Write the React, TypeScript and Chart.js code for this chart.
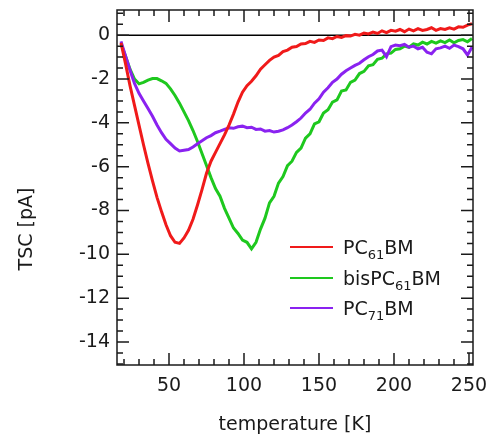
import React, { useEffect, useRef } from "react";
import { Chart, registerables } from "chart.js";

Chart.register(...registerables);

// Temperature sweep (K)
const temperatureK = [
  18, 21, 24, 27, 30, 33, 36, 39, 42, 45,
  48, 51, 54, 57, 60, 63, 66, 69, 72, 75,
  78, 81, 84, 87, 90, 93, 96, 99, 102, 105,
  108, 111, 114, 117, 120, 123, 126, 129, 132, 135,
  138, 141, 144, 147, 150, 153, 156, 159, 162, 165,
  168, 171, 174, 177, 180, 183, 186, 189, 192, 195,
  198, 201, 204, 207, 210, 213, 216, 219, 222, 225,
  228, 231, 234, 237, 240, 243, 246, 249, 252,
];

// Thermally stimulated current (pA)
const pc61bm = [
  -0.35, -1.3, -2.3, -3.2, -4.1, -5.0, -5.85, -6.65, -7.4, -8.05,
  -8.65, -9.15, -9.45, -9.5, -9.25, -8.9, -8.4, -7.75, -7.05, -6.3,
  -5.75, -5.35, -4.95, -4.55, -4.1, -3.6, -3.05, -2.6, -2.3, -2.1,
  -1.85, -1.55, -1.35, -1.15, -1.0, -0.92, -0.75, -0.68, -0.55, -0.52,
  -0.4, -0.38, -0.28, -0.33, -0.22, -0.24, -0.12, -0.16, -0.06, -0.1,
  -0.02, -0.04, 0.04, 0.0, 0.1, 0.06, 0.14, 0.08, 0.2, 0.12,
  0.22, 0.18, 0.26, 0.16, 0.28, 0.2, 0.3, 0.22, 0.26, 0.34,
  0.22, 0.3, 0.26, 0.34, 0.28, 0.38, 0.36, 0.46, 0.52,
];

const bisPc61bm = [
  -0.4, -0.95, -1.55, -2.0, -2.22, -2.15, -2.05, -1.98, -1.98, -2.08,
  -2.2, -2.45, -2.75, -3.1, -3.5, -3.9, -4.35, -4.85, -5.4, -5.95,
  -6.5, -7.0, -7.35, -7.9, -8.35, -8.8, -9.05, -9.35, -9.45, -9.75,
  -9.45, -8.85, -8.35, -7.65, -7.35, -6.75, -6.45, -5.95, -5.75, -5.35,
  -5.15, -4.7, -4.5, -4.05, -3.95, -3.55, -3.4, -3.05, -2.95, -2.55,
  -2.5, -2.15, -2.05, -1.75, -1.65, -1.4, -1.35, -1.1, -1.05, -0.85,
  -0.82, -0.65, -0.62, -0.5, -0.55, -0.4, -0.45, -0.32, -0.4, -0.28,
  -0.36, -0.26, -0.34, -0.22, -0.35, -0.24, -0.2, -0.3, -0.15,
];

const pc71bm = [
  -0.28, -0.95, -1.6, -2.2, -2.65, -3.0, -3.35, -3.7, -4.1, -4.45,
  -4.75, -4.95, -5.15, -5.28, -5.25, -5.22, -5.1, -4.95, -4.82, -4.68,
  -4.58, -4.45, -4.38, -4.3, -4.22, -4.25, -4.18, -4.15, -4.22, -4.2,
  -4.3, -4.28, -4.38, -4.35, -4.42, -4.38, -4.32, -4.22, -4.1, -3.95,
  -3.78, -3.55, -3.38, -3.1, -2.9, -2.6, -2.4, -2.15, -2.0, -1.78,
  -1.62, -1.5, -1.38, -1.28, -1.12, -0.98, -0.88, -0.72, -0.68, -0.98,
  -0.52, -0.45, -0.48, -0.42, -0.55, -0.5, -0.62, -0.55, -0.78, -0.85,
  -0.62, -0.58, -0.5, -0.6, -0.45, -0.52, -0.62, -0.9, -0.55,
];

const xTickValues = [50, 100, 150, 200, 250];
const yTickValues = [0, -2, -4, -6, -8, -10, -12, -14];

// Legend labels split into base / subscript / tail
const legendBase = ["PC", "bisPC", "PC"];
const legendSub = ["61", "61", "71"];
const legendTail = ["BM", "BM", "BM"];
const seriesColors = ["#f01a1a", "#1ec81e", "#8a22f0"];

const yTitle = "TSC [pA]";

const FONT = "'DejaVu Sans', sans-serif";
const INK = "#1a1a1a";

const clearScalePadding = (scale: any) => {
  scale.paddingTop = 0;
  scale.paddingBottom = 0;
  scale.paddingLeft = 0;
  scale.paddingRight = 0;
};

const axisFramePlugin = {
  id: "axisFrame",
  beforeDatasetsDraw(chart: any) {
    const { ctx, chartArea, scales } = chart;
    const y0 = scales.y.getPixelForValue(0);
    ctx.save();
    ctx.strokeStyle = "#000";
    ctx.lineWidth = 1.5;
    ctx.beginPath();
    ctx.moveTo(chartArea.left, y0);
    ctx.lineTo(chartArea.right, y0);
    ctx.stroke();
    ctx.restore();
  },
  afterDatasetsDraw(chart: any) {
    const { ctx, chartArea, scales } = chart;
    const { left, right, top, bottom } = chartArea;
    ctx.save();
    ctx.strokeStyle = INK;
    ctx.lineWidth = 1.5;
    ctx.strokeRect(left, top, right - left, bottom - top);
    ctx.beginPath();
    // temperature ticks, every 10 K with longer marks every 50 K
    for (let t = 20; t <= 250; t += 10) {
      const x = scales.x.getPixelForValue(t);
      const len = t % 50 === 0 ? 12 : 6;
      ctx.moveTo(x, bottom);
      ctx.lineTo(x, bottom - len);
      ctx.moveTo(x, top);
      ctx.lineTo(x, top + len);
    }
    // current ticks, every 0.5 pA with longer marks every 2 pA
    for (let k = -30; k <= 2; k++) {
      const v = k / 2;
      const y = scales.y.getPixelForValue(v);
      if (y < top - 0.5 || y > bottom + 0.5) continue;
      const len = k % 4 === 0 ? 12 : 6;
      ctx.moveTo(left, y);
      ctx.lineTo(left + len, y);
      ctx.moveTo(right, y);
      ctx.lineTo(right - len, y);
    }
    ctx.stroke();
    ctx.restore();
  },
  afterDraw(chart: any) {
    const { ctx } = chart;
    ctx.save();
    // vertical axis title
    ctx.save();
    ctx.translate(27, 229);
    ctx.rotate(-Math.PI / 2);
    ctx.fillStyle = INK;
    ctx.font = `19px ${FONT}`;
    ctx.textAlign = "center";
    ctx.textBaseline = "middle";
    ctx.fillText(yTitle, 0, 0);
    ctx.restore();

    const lineX0 = 290;
    const lineX1 = 333;
    const textX = 343;
    const rowY = [247, 278, 308];
    for (let i = 0; i < legendBase.length; i++) {
      const y = rowY[i];
      ctx.strokeStyle = seriesColors[i];
      ctx.lineWidth = 2;
      ctx.beginPath();
      ctx.moveTo(lineX0, y);
      ctx.lineTo(lineX1, y);
      ctx.stroke();
      ctx.fillStyle = INK;
      ctx.textBaseline = "alphabetic";
      ctx.textAlign = "left";
      let x = textX;
      ctx.font = `19px ${FONT}`;
      ctx.fillText(legendBase[i], x, y + 7);
      x += ctx.measureText(legendBase[i]).width;
      ctx.font = `13px ${FONT}`;
      ctx.fillText(legendSub[i], x, y + 12);
      x += ctx.measureText(legendSub[i]).width;
      ctx.font = `19px ${FONT}`;
      ctx.fillText(legendTail[i], x, y + 7);
    }
    ctx.restore();
  },
};

export default function App() {
  const canvasRef = useRef<HTMLCanvasElement | null>(null);

  useEffect(() => {
    const canvas = canvasRef.current;
    if (!canvas) return;
    const series = [
      { label: "PC61BM", values: pc61bm },
      { label: "bisPC61BM", values: bisPc61bm },
      { label: "PC71BM", values: pc71bm },
    ];
    const order = [0, 2, 1];
    const chart = new Chart(canvas, {
      type: "line",
      data: {
        datasets: order.map((i) => ({
          label: series[i].label,
          data: temperatureK.map((t, j) => ({ x: t, y: series[i].values[j] })),
          borderColor: seriesColors[i],
          borderWidth: 3,
          pointRadius: 0,
          tension: 0,
          fill: false,
        })),
      },
      options: {
        responsive: false,
        animation: false,
        events: [],
        layout: { padding: { top: 10, right: 18, bottom: 0, left: 0 } },
        plugins: { legend: { display: false }, tooltip: { enabled: false } },
        scales: {
          x: {
            type: "linear",
            min: 15.33,
            max: 252.67,
            grid: { display: false, drawTicks: false },
            border: { display: false },
            afterBuildTicks: (scale: any) => {
              scale.ticks = xTickValues.map((v) => ({ value: v }));
            },
            afterFit: (scale: any) => {
              scale.height = 74;
              clearScalePadding(scale);
            },
            ticks: {
              autoSkip: false,
              maxRotation: 0,
              padding: 10,
              color: INK,
              font: { family: FONT, size: 19 },
            },
            title: {
              display: true,
              text: "temperature [K]",
              color: INK,
              font: { family: FONT, size: 19 },
              padding: { top: 0, bottom: 3 },
            },
          },
          y: {
            type: "linear",
            min: -15.05,
            max: 1.15,
            grid: { display: false, drawTicks: false },
            border: { display: false },
            afterBuildTicks: (scale: any) => {
              scale.ticks = yTickValues.map((v) => ({ value: v }));
            },
            afterFit: (scale: any) => {
              scale.width = 117;
              clearScalePadding(scale);
            },
            ticks: {
              autoSkip: false,
              padding: 7,
              color: INK,
              font: { family: FONT, size: 19 },
            },
          },
        },
      },
      plugins: [axisFramePlugin],
    });
    return () => chart.destroy();
  }, []);

  return (
    <div style={{ position: "fixed", left: 0, top: 0, width: 491, height: 439, background: "#fff" }}>
      <canvas ref={canvasRef} width={491} height={439} style={{ display: "block" }} />
    </div>
  );
}
